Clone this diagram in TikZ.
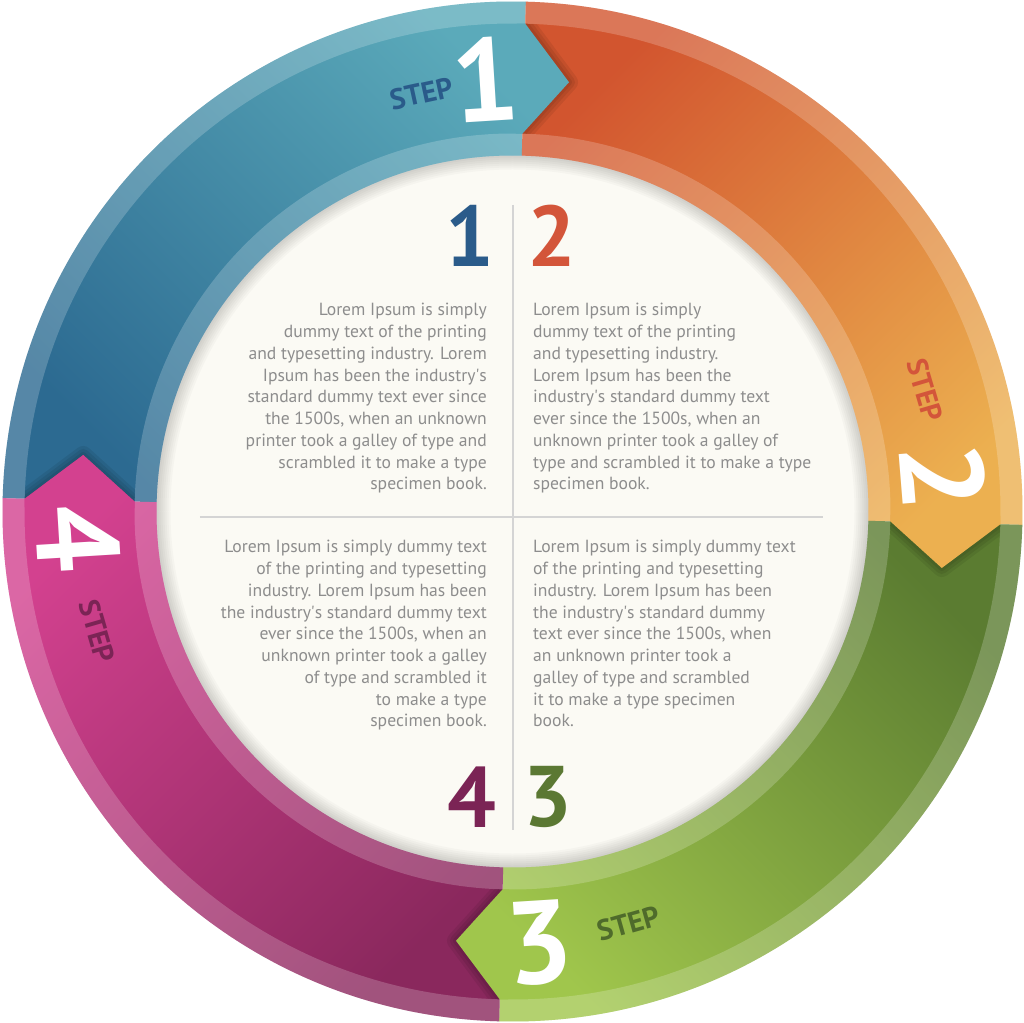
\documentclass[tikz,border=0pt]{standalone}
\usepackage{fontspec}
\setmainfont{PT Sans}

\definecolor{blueS}{HTML}{2C6A91}
\definecolor{blueE}{HTML}{5BAABA}
\definecolor{orangeS}{HTML}{D2552F}
\definecolor{orangeE}{HTML}{ECB050}
\definecolor{greenS}{HTML}{5B7C31}
\definecolor{greenE}{HTML}{A0C64C}
\definecolor{pinkS}{HTML}{8A285D}
\definecolor{pinkE}{HTML}{D3418F}
\definecolor{blueTxt}{HTML}{2A5B8A}
\definecolor{orangeTxt}{HTML}{D3553A}
\definecolor{greenTxt}{HTML}{4F6B2B}
\definecolor{pinkTxt}{HTML}{7B2455}
\definecolor{greenNum}{HTML}{5B7833}
\definecolor{cream}{HTML}{FBFAF4}
\definecolor{bodygray}{HTML}{8D8D8D}
\definecolor{rulegray}{HTML}{D4D4D4}

% ring piece: start angle, end angle, tip angle
\newcommand{\ringpath}[3]{(#1:510) arc[start angle=#1,end angle=#2,radius=510pt]
  -- (#2:488) -- (#3:433) -- (#2:378) -- (#2:356)
  arc[start angle=#2,end angle=#1,radius=356pt] -- cycle}
\newcommand{\aps}{\textquotesingle}

\tikzset{
  steptag/.style={font=\bfseries\fontsize{29}{29}\selectfont,inner sep=0pt},
  stepnum/.style={font=\bfseries\fontsize{118}{118}\selectfont,text=white,inner sep=0pt},
  bignum/.style={font=\bfseries\fontsize{86}{86}\selectfont,inner sep=0pt},
  body/.style={font=\fontsize{17.6}{21.75}\selectfont,text=bodygray,inner sep=0pt},
  divider/.style={rulegray,line width=2pt}
}

\begin{document}
\begin{tikzpicture}[x=1pt,y=1pt]
\useasboundingbox (-512.5,-510.5) rectangle (511.5,511.5);
\fill[white] (-512.5,-510.5) rectangle (511.5,511.5);

% cream centre with soft inner shadow
\fill[cream] (0,0) circle[radius=356pt];
\foreach \w in {4,8,...,28}
  \draw[black,opacity=.025,line width=\w pt] (0,0) circle[radius=356pt];

% ring pieces
\foreach \s/\cs/\ce/\ang in {178.5/blueS/blueE/-45, 88.5/orangeS/orangeE/-135,
                              -1.5/greenS/greenE/135, -91.5/pinkS/pinkE/45}{
  \pgfmathsetmacro\e{\s-90}
  \pgfmathsetmacro\t{\e-6}
  \shade[top color=\ce,bottom color=\cs,shading angle=\ang] \ringpath{\s}{\e}{\t};
  \fill[white,opacity=.2] (\s:510) arc[start angle=\s,end angle=\e,radius=510pt]
    -- (\e:488) arc[start angle=\e,end angle=\s,radius=488pt] -- cycle;
  \fill[white,opacity=.2] (\s:378) arc[start angle=\s,end angle=\e,radius=378pt]
    -- (\e:356) arc[start angle=\e,end angle=\s,radius=356pt] -- cycle;
}

% arrow tips on top, with their shadows
\foreach \s/\cs/\ce/\ang in {178.5/blueS/blueE/-45, 88.5/orangeS/orangeE/-135,
                              -1.5/greenS/greenE/135, -91.5/pinkS/pinkE/45}{
  \pgfmathsetmacro\e{\s-90}
  \pgfmathsetmacro\t{\e-6}
  \pgfmathsetmacro\n{\e-14}
  \pgfmathsetmacro\b{\e+1}
  \begin{scope}
    \clip (\e:488) arc[start angle=\e,end angle=\n,radius=488pt]
      -- (\n:378) arc[start angle=\n,end angle=\e,radius=378pt] -- cycle;
    \foreach \w in {18,12,6}
      \draw[black,opacity=.07,line width=\w pt,line join=round] (\e:488) -- (\t:433) -- (\e:378);
  \end{scope}
  \begin{scope}
    \clip (\b:488) -- (\e:488) -- (\t:433) -- (\e:378) -- (\b:378) -- cycle;
    \shade[top color=\ce,bottom color=\cs,shading angle=\ang] \ringpath{\s}{\e}{\t};
  \end{scope}
}

% step labels
\node[steptag,text=blueTxt,rotate=12.3] (step1) at (102.3:428) {STEP};
\node[stepnum,rotate=3.6] (num1) at (93.6:433) {1};
\node[steptag,text=orangeTxt,rotate=-73.6] (step2) at (16.4:430) {STEP};
\node[stepnum,rotate=-85.4] (num2) at (4.6:432) {2};
\node[steptag,text=greenTxt,rotate=15.7] (step3) at (-74.3:428) {STEP};
\node[stepnum,rotate=3.6] (num3) at (-86.4:432) {3};
\node[steptag,text=pinkTxt,rotate=-73.9] (step4) at (196.1:432) {STEP};
\node[stepnum,rotate=-86.5] (num4) at (183.5:435) {4};

% quarters
\draw[divider] (0,306.5) -- (0,-318.5);
\draw[divider] (-312.5,-5.5) -- (310.5,-5.5);

\node[bignum,text=blueTxt] (big1) at (-42.5,275.5) {1};
\node[bignum,text=orangeTxt] (big2) at (39.5,275.5) {2};
\node[bignum,text=greenNum] (big3) at (35.5,-285.5) {3};
\node[bignum,text=pinkTxt] (big4) at (-40.5,-285.5) {4};

\node[body,align=right,anchor=north east] (text1) at (-25.5,208.2)
  {Lorem Ipsum is simply\\dummy text of the printing\\and typesetting industry. Lorem\\Ipsum has been the industry\aps s\\standard dummy text ever since\\the 1500s, when an unknown\\printer took a galley of type and\\scrambled it to make a type\\specimen book.};
\node[body,align=left,anchor=north west] (text2) at (20.5,208.2)
  {Lorem Ipsum is simply\\dummy text of the printing\\and typesetting industry.\\Lorem Ipsum has been the\\industry\aps s standard dummy text\\ever since the 1500s, when an\\unknown printer took a galley of\\type and scrambled it to make a type\\specimen book.};
\node[body,align=left,anchor=north west] (text3) at (20.5,-28.8)
  {Lorem Ipsum is simply dummy text\\of the printing and typesetting\\industry. Lorem Ipsum has been\\the industry\aps s standard dummy\\text ever since the 1500s, when\\an unknown printer took a\\galley of type and scrambled\\it to make a type specimen\\book.};
\node[body,align=right,anchor=north east] (text4) at (-25.5,-28.8)
  {Lorem Ipsum is simply dummy text\\of the printing and typesetting\\industry. Lorem Ipsum has been\\the industry\aps s standard dummy text\\ever since the 1500s, when an\\unknown printer took a galley\\of type and scrambled it\\to make a type\\specimen book.};

\end{tikzpicture}
\end{document}
